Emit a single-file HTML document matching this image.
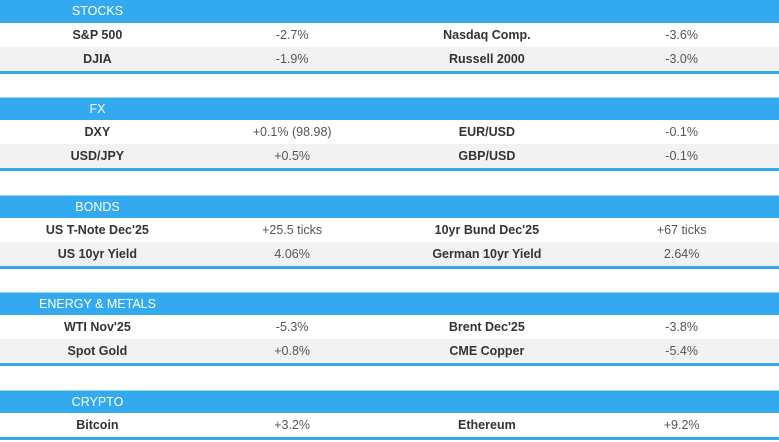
<!DOCTYPE html>
<html><head><style>
body{margin:0;width:779px;height:442px;background:#fff;font-family:"Liberation Sans",sans-serif;overflow:hidden;position:relative}
.sec{position:absolute;left:0;width:779px}
.h{height:23px;background:#33aaf0;color:#fff;font-size:12.5px;line-height:23px;border-top:1px solid #9fd3f5;box-sizing:border-box}
.h span{display:block;width:195px;text-align:center}
.r{height:24px;display:flex;font-size:12.5px;line-height:24px}
.r.g{background:#f2f2f2}
.r div{width:195px;text-align:center;color:#555}
.r div.n{font-weight:bold;color:#333}
.b{height:3px;background:#33aaf0}
</style></head><body>
<div class="sec" style="top:0"><div class="h" style="border-top:none"><span>STOCKS</span></div>
<div class="r"><div class="n">S&amp;P 500</div><div>-2.7%</div><div class="n">Nasdaq Comp.</div><div>-3.6%</div></div>
<div class="r g"><div class="n">DJIA</div><div>-1.9%</div><div class="n">Russell 2000</div><div>-3.0%</div></div><div class="b"></div></div>

<div class="sec" style="top:97px"><div class="h"><span>FX</span></div>
<div class="r"><div class="n">DXY</div><div>+0.1% (98.98)</div><div class="n">EUR/USD</div><div>-0.1%</div></div>
<div class="r g"><div class="n">USD/JPY</div><div>+0.5%</div><div class="n">GBP/USD</div><div>-0.1%</div></div><div class="b"></div></div>

<div class="sec" style="top:195px"><div class="h"><span>BONDS</span></div>
<div class="r"><div class="n">US T-Note Dec'25</div><div>+25.5 ticks</div><div class="n">10yr Bund Dec'25</div><div>+67 ticks</div></div>
<div class="r g"><div class="n">US 10yr Yield</div><div>4.06%</div><div class="n">German 10yr Yield</div><div>2.64%</div></div><div class="b"></div></div>

<div class="sec" style="top:292px"><div class="h"><span>ENERGY &amp; METALS</span></div>
<div class="r"><div class="n">WTI Nov'25</div><div>-5.3%</div><div class="n">Brent Dec'25</div><div>-3.8%</div></div>
<div class="r g"><div class="n">Spot Gold</div><div>+0.8%</div><div class="n">CME Copper</div><div>-5.4%</div></div><div class="b"></div></div>

<div class="sec" style="top:390px"><div class="h"><span>CRYPTO</span></div>
<div class="r"><div class="n">Bitcoin</div><div>+3.2%</div><div class="n">Ethereum</div><div>+9.2%</div></div><div class="b"></div></div>
</body></html>
